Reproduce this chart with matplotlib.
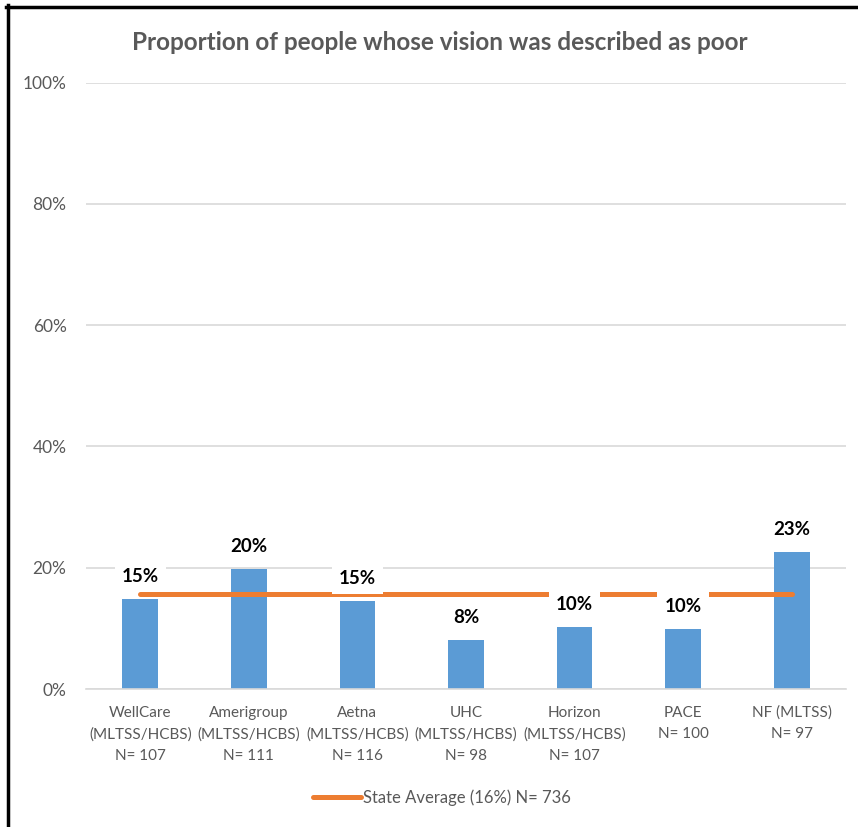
import matplotlib
matplotlib.use("Agg")
import matplotlib.pyplot as plt
from matplotlib.lines import Line2D
from matplotlib.ticker import FuncFormatter

categories = ["WellCare\n(MLTSS/HCBS)\nN= 107", "Amerigroup\n(MLTSS/HCBS)\nN= 111",
              "Aetna\n(MLTSS/HCBS)\nN= 116", "UHC\n(MLTSS/HCBS)\nN= 98",
              "Horizon\n(MLTSS/HCBS)\nN= 107", "PACE\nN= 100", "NF (MLTSS)\nN= 97"]
values = [0.149, 0.198, 0.145, 0.081, 0.102, 0.099, 0.226]
value_labels = ["15%", "20%", "15%", "8%", "10%", "10%", "23%"]
state_avg = 0.157
state_label = "State Average (16%) N= 736"
title = "Proportion of people whose vision was described as poor"

plt.rcParams['font.family'] = ['Lato', 'DejaVu Sans']
gray = "#595959"
blue = "#5B9BD5"
orange = "#ED7D31"

fig = plt.figure(figsize=(8.58, 8.27), dpi=100)
ax = fig.add_axes([86/858, 1-689/827, (846-86)/858, (689-82.7)/827])

x = list(range(len(categories)))
ax.bar(x, values, width=0.33, color=blue, zorder=2)
ax.plot([x[0], x[-1]], [state_avg, state_avg], color=orange, lw=3.6,
        solid_capstyle='round', zorder=3, label=state_label)

for xi, v, lab in zip(x, values, value_labels):
    ax.annotate(lab, (xi, v), xytext=(0, 16), textcoords='offset points',
                ha='center', va='center', fontsize=13.5, fontweight='bold',
                color='black', zorder=4,
                bbox=dict(boxstyle='square,pad=0.38', fc='white', ec='none'))

ax.set_xlim(-0.5, 6.5)
ax.set_ylim(0, 1.0)
ax.set_yticks([0, 0.2, 0.4, 0.6, 0.8, 1.0])
ax.yaxis.set_major_formatter(FuncFormatter(lambda v, p: f"{v*100:.0f}%"))
ax.set_xticks(x)
ax.set_xticklabels(categories, linespacing=1.65)
ax.tick_params(axis='both', length=0, colors=gray)
ax.tick_params(axis='x', labelsize=11, pad=12)
ax.tick_params(axis='y', labelsize=12.5, pad=14)
ax.grid(axis='y', color='#D9D9D9', lw=1.2, zorder=0)
ax.set_axisbelow(True)
for s in ['left', 'right', 'top']:
    ax.spines[s].set_visible(False)
ax.spines['bottom'].set_color('#D9D9D9')
ax.spines['bottom'].set_linewidth(1.2)

fig.text(440/858, 1-43/827, title, ha='center', va='center', fontsize=17.5,
         fontweight='bold', color=gray)

leg = fig.legend(handles=[Line2D([0], [0], color=orange, lw=3.6, solid_capstyle='round')],
                 labels=[state_label], loc='center', bbox_to_anchor=(442/858, 1-798/827),
                 frameon=False, fontsize=12, handlelength=2.9, handletextpad=0.1)
for t in leg.get_texts():
    t.set_color(gray)

fig.add_artist(Line2D([8/858, 8/858], [0, 1-5/827], color='black', lw=2.5,
                      transform=fig.transFigure))
fig.add_artist(Line2D([6/858, 1], [1-6.5/827, 1-6.5/827], color='black', lw=2.5,
                      transform=fig.transFigure))

fig.savefig("out.png", dpi=100)
